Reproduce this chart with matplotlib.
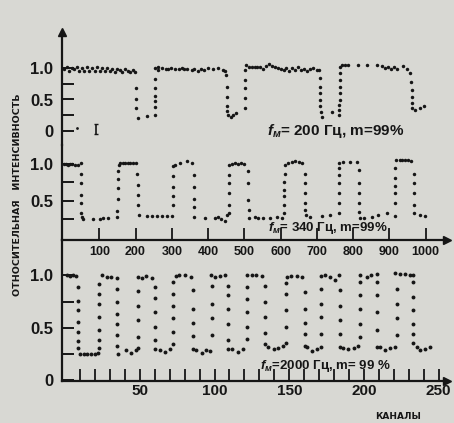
import matplotlib
matplotlib.use("Agg")
import matplotlib.pyplot as plt
from matplotlib import font_manager as fm

# ---------------- data ----------------
# Top panel: f_m = 200 Hz, m = 99 %  (channels 0..1000)
top_ch = [3, 10, 17, 24, 31, 38, 45, 52, 59, 66, 73, 80, 87, 94, 101, 108, 115, 122, 129, 136,
          143, 150, 157, 164, 171, 178, 185, 192, 198,
          200, 200, 202, 206, 232,
          253, 254, 254, 254, 254, 254, 255,
          263, 263, 272, 283, 290, 297, 309, 320, 327, 334, 343, 355, 362, 371, 380, 388, 401, 414, 428, 440, 448,
          450, 451, 452, 452, 453, 455, 462, 470, 478,
          502, 503, 503, 503, 503, 504,
          512, 520, 528, 536, 544, 552, 560, 568, 576, 584, 592, 600, 608, 616, 624, 632, 640, 648, 656, 664,
          672, 680, 690, 700,
          707, 708, 708, 709, 709, 709, 710, 713, 741,
          762, 762, 762, 763, 763, 763, 763, 764, 764,
          770, 778, 786, 814, 837, 865, 880, 888, 896, 904, 912, 920, 938, 948,
          958, 960, 961, 962, 962, 963, 970, 984, 996]
top_val = [0.98, 1.02, 0.96, 1.00, 0.99, 1.01, 0.96, 1.00, 0.95, 1.01, 0.96, 1.00, 0.95, 1.01, 0.96, 1.00, 0.95, 1.00, 0.96, 0.99,
           0.94, 0.98, 0.97, 0.93, 0.98, 0.96, 0.94, 0.97, 0.93,
           0.68, 0.51, 0.36, 0.21, 0.24,
           0.26, 0.38, 0.47, 0.55, 0.69, 0.82, 1.00,
           1.02, 0.97, 1.00, 0.99, 0.99, 1.00, 0.99, 0.98, 1.00, 0.98, 0.99, 0.97, 0.99, 0.96, 0.99, 0.97, 1.00, 0.98, 1.00, 0.97, 0.95,
           0.89, 0.70, 0.54, 0.39, 0.31, 0.25, 0.23, 0.25, 0.28,
           0.36, 0.52, 0.68, 0.81, 0.97, 1.05,
           1.02, 1.02, 1.01, 1.02, 1.01, 0.99, 1.03, 1.07, 1.03, 1.02, 1.00, 0.98, 0.97, 1.00, 0.96, 1.00, 0.97, 1.01, 0.97, 0.99,
           0.95, 0.98, 1.00, 0.97,
           0.97, 0.84, 0.70, 0.60, 0.49, 0.39, 0.30, 0.23, 0.30,
           0.25, 0.33, 0.41, 0.49, 0.60, 0.70, 0.81, 0.92, 1.02,
           1.04, 1.05, 1.04, 1.05, 1.05, 1.05, 1.03, 1.00, 1.02, 0.99, 1.01, 0.98, 1.03, 0.98,
           0.92, 0.78, 0.65, 0.54, 0.44, 0.36, 0.34, 0.36, 0.39]
# small marks near zero level (start of top record) and error bar
top_zero_ch = [38]
top_zero_val = [0.04]
err_ch = [92]
err_val = [0.03]
err_size = [0.08]

# Middle panel: f_m = 340 Hz, m = 99 %  (channels 0..1000)
mid_ch = [2, 8, 14, 20, 26, 32, 40, 49,
          50, 51, 51, 51, 51, 52, 54,
          82, 102, 111, 125,
          148, 150, 153, 153, 153, 153, 154,
          158, 165, 172, 179, 186, 193, 200,
          205, 206, 207, 208, 210,
          231, 245, 258, 272, 286,
          300, 302, 302, 302, 303, 303,
          309, 323, 341, 355,
          361, 361, 361, 362, 362,
          392, 419, 428, 437, 447, 452,
          458, 458, 458, 458, 459, 459,
          465, 474, 483, 492, 500,
          510, 511, 511, 512, 513,
          529, 538, 552, 571, 589, 603,
          609, 609, 610, 610, 610, 611, 611,
          620, 630, 640, 650, 660,
          667, 667, 667, 668, 668, 669,
          681, 713, 736,
          760, 761, 761, 761, 761, 762, 762,
          772, 790, 810,
          816, 816, 817, 817, 817, 818,
          829, 851, 869, 892,
          915, 915, 915, 916, 916, 916, 917,
          928, 936, 944, 952, 960,
          968, 968, 968, 969, 969,
          984, 998]
mid_val = [1.00, 1.00, 0.99, 1.00, 1.00, 0.99, 0.99, 1.02,
           0.86, 0.74, 0.58, 0.47, 0.34, 0.28, 0.25,
           0.25, 0.25, 0.26, 0.27,
           0.28, 0.36, 0.53, 0.67, 0.79, 0.91, 0.99,
           1.01, 1.02, 1.02, 1.01, 1.02, 1.02, 1.01,
           0.87, 0.71, 0.58, 0.44, 0.31,
           0.29, 0.29, 0.29, 0.29, 0.29,
           0.29, 0.44, 0.56, 0.69, 0.83, 0.97,
           0.99, 1.02, 1.04, 1.01,
           0.85, 0.69, 0.53, 0.41, 0.28,
           0.27, 0.26, 0.28, 0.25, 0.23, 0.30,
           0.33, 0.44, 0.60, 0.74, 0.85, 0.99,
           1.00, 1.01, 1.00, 1.01, 1.00,
           0.90, 0.74, 0.51, 0.37, 0.26,
           0.28, 0.27, 0.27, 0.27, 0.28, 0.27,
           0.33, 0.44, 0.56, 0.65, 0.75, 0.86, 0.99,
           1.01, 1.03, 1.04, 1.03, 1.01,
           0.87, 0.74, 0.60, 0.47, 0.37, 0.31,
           0.28, 0.29, 0.31,
           0.34, 0.47, 0.60, 0.74, 0.85, 0.94, 1.02,
           1.03, 1.03, 1.03,
           0.92, 0.74, 0.60, 0.47, 0.35, 0.26,
           0.26, 0.28, 0.31, 0.34,
           0.29, 0.47, 0.60, 0.70, 0.81, 0.94, 1.05,
           1.05, 1.05, 1.05, 1.05, 1.04,
           0.87, 0.74, 0.60, 0.44, 0.33,
           0.31, 0.29]

# Bottom panel: f_m = 2000 Hz, m = 99 %  (channels 0..250)
bot_ch = [1.5, 3.5, 5.5, 7.5,
          9, 9, 9, 9, 9, 9, 9,
          10, 12.5, 15, 17.5, 20, 22,
          23, 23, 23, 23, 23, 23, 23,
          24.5, 28, 31, 34.5,
          35, 35, 35, 35, 35, 35, 35.5,
          40.5, 44, 47.5,
          49, 49, 49, 49, 49,
          49, 51.5, 54.5, 58,
          60.5, 60.5, 60.5, 60.5, 60.5, 60.5,
          63.5, 67, 70,
          72, 72, 72, 72, 72, 72,
          74, 76, 80, 84,
          85.5, 85.5, 85.5, 85.5, 85.5,
          87.5, 91.5, 94.5, 97,
          98, 98, 98, 98,
          97.5, 100.5, 103.5, 107,
          109, 109, 109, 109, 109, 109,
          111.5, 116, 119,
          121.5, 121.5, 121.5, 121.5, 121.5,
          122, 125, 128, 131.5,
          134, 134, 134, 134, 134,
          136, 139.5, 142.5, 146,
          148, 148, 148, 148, 148,
          148.5, 151.5, 155, 158.5,
          160.5, 160.5, 160.5, 160.5, 160.5,
          162, 165, 168.5, 171,
          171, 171, 171, 171,
          171, 174, 177.5, 180.5, 183,
          184, 184, 184, 184, 184,
          186, 189.5, 193, 196,
          197.5, 197.5, 197.5, 197.5, 197.5,
          197.5, 202, 205, 208.5,
          209, 209, 209, 209, 209,
          210.5, 214, 217.5, 220.5,
          222, 222, 222, 222,
          220.5, 224, 227.5, 231, 233,
          233, 233, 233, 233, 233, 233,
          235.5, 237.5, 241, 244]
bot_val = [1.00, 0.99, 1.00, 0.99,
           0.89, 0.76, 0.67, 0.56, 0.46, 0.37, 0.31,
           0.25, 0.25, 0.25, 0.25, 0.25, 0.26,
           0.31, 0.38, 0.48, 0.60, 0.73, 0.82, 0.92,
           1.00, 0.98, 0.98, 0.97,
           0.87, 0.75, 0.63, 0.54, 0.43, 0.33, 0.25,
           0.29, 0.26, 0.29,
           0.31, 0.41, 0.57, 0.71, 0.85,
           0.98, 0.97, 0.99, 0.97,
           0.89, 0.78, 0.65, 0.51, 0.38, 0.30,
           0.29, 0.27, 0.30,
           0.35, 0.46, 0.59, 0.71, 0.82, 0.94,
           0.99, 1.00, 1.00, 0.98,
           0.86, 0.68, 0.55, 0.42, 0.30,
           0.29, 0.26, 0.29, 0.28,
           0.43, 0.59, 0.73, 0.90,
           1.00, 0.98, 0.99, 1.00,
           0.90, 0.81, 0.68, 0.54, 0.38, 0.30,
           0.30, 0.27, 0.30,
           0.39, 0.51, 0.65, 0.77, 0.89,
           1.00, 1.00, 1.00, 0.99,
           0.90, 0.75, 0.60, 0.45, 0.35,
           0.32, 0.30, 0.31, 0.33,
           0.36, 0.51, 0.67, 0.82, 0.93,
           0.98, 0.99, 0.99, 0.98,
           0.84, 0.68, 0.55, 0.44, 0.33,
           0.32, 0.28, 0.30, 0.32,
           0.44, 0.60, 0.73, 0.87,
           0.99, 1.00, 0.98, 0.96, 1.00,
           0.86, 0.71, 0.57, 0.44, 0.32,
           0.31, 0.30, 0.31, 0.33,
           0.41, 0.54, 0.68, 0.81, 0.94,
           1.00, 0.98, 1.00, 1.01,
           0.94, 0.81, 0.65, 0.48, 0.32,
           0.32, 0.29, 0.31, 0.32,
           0.43, 0.59, 0.73, 0.87,
           1.02, 1.01, 1.01, 1.00, 1.00,
           0.94, 0.79, 0.67, 0.54, 0.44, 0.36,
           0.32, 0.29, 0.30, 0.32]

assert len(top_ch) == len(top_val)
assert len(mid_ch) == len(mid_val)
assert len(bot_ch) == len(bot_val)

y_ticks = [0, 0.25, 0.5, 0.75, 1.0]
y_ticklabels = ["0", "", "0.5", "", "1.0"]
mid_xticks = [100, 200, 300, 400, 500, 600, 700, 800, 900, 1000]
bot_xticks = list(range(10, 251, 10))
bot_xlabeled = [50, 100, 150, 200, 250]

label_top = r"$f_{м}$= 200 Гц, m=99%"
label_mid = r"$f_{м}$= 340 Гц, m=99%"
label_bot = r"$f_{м}$=2000 Гц, m= 99 %"
ylabel_text = "ОТНОСИТЕЛЬНАЯ   ИНТЕНСИВНОСТЬ"
xlabel_text = "КАНАЛЫ"

# ---------------- style ----------------
BG = "#d8d8d3"
INK = "#161616"
names = {f.name for f in fm.fontManager.ttflist}
MAIN = "Liberation Sans Narrow" if "Liberation Sans Narrow" in names else "Liberation Sans"
plt.rcParams["font.family"] = [MAIN, "DejaVu Sans"]
plt.rcParams["font.weight"] = "bold"
plt.rcParams["mathtext.fontset"] = "custom"
plt.rcParams["mathtext.rm"] = f"{MAIN}:bold"
plt.rcParams["mathtext.it"] = f"{MAIN}:italic:bold"
plt.rcParams["mathtext.bf"] = f"{MAIN}:bold"

W, H = 454, 423
fig = plt.figure(figsize=(W / 100, H / 100), dpi=100, facecolor=BG)


def add_axes_px(left, top, right, bottom):
    ax = fig.add_axes([left / W, 1 - bottom / H, (right - left) / W, (bottom - top) / H])
    ax.set_facecolor("none")
    for s in ("top", "right"):
        ax.spines[s].set_visible(False)
    ax.spines["left"].set_linewidth(1.6)
    ax.spines["bottom"].set_linewidth(1.6)
    ax.spines["left"].set_color(INK)
    ax.spines["bottom"].set_color(INK)
    return ax


AX_L, AX_R = 61.5, 447
# calibration (pixel = a + b * value)
top_x0, top_xs = 63, 0.3627
bot_x0, bot_xs = 65, 1.495

YLAB = 12

# ---- top panel ----
t_zero, t_scale = 131, 63.0
ax_t = add_axes_px(AX_L, 32, AX_R, 145)
ax_t.set_xlim((AX_L - top_x0) / top_xs, (AX_R - top_x0) / top_xs)
ax_t.set_ylim((t_zero - 145) / t_scale, (t_zero - 32) / t_scale)
ax_t.spines["bottom"].set_visible(False)
ax_t.plot(top_ch, top_val, "o", ms=2.5, color=INK, mew=0)
ax_t.plot(top_zero_ch, top_zero_val, "o", ms=2.0, color=INK, mew=0)
ax_t.errorbar(err_ch, err_val, yerr=err_size, fmt="none", ecolor=INK, elinewidth=1.2, capsize=1.6, capthick=1.0)
ax_t.set_xticks([])
ax_t.set_yticks(y_ticks)
ax_t.set_yticklabels(y_ticklabels)
ax_t.tick_params(axis="y", direction="in", length=8.5, width=1.4, pad=6, labelsize=YLAB, colors=INK)
ax_t.plot([0], [1], marker="^", ms=6, color=INK, transform=ax_t.transAxes, clip_on=False)

# ---- middle panel ----
m_zero, m_scale = 237.5, 73.5
ax_m = add_axes_px(AX_L, 145, AX_R, 240)
ax_m.set_xlim((AX_L - top_x0) / top_xs, (AX_R - top_x0) / top_xs)
ax_m.set_ylim((m_zero - 240) / m_scale, (m_zero - 145) / m_scale)
ax_m.plot(mid_ch, mid_val, "o", ms=2.5, color=INK, mew=0)
ax_m.set_yticks(y_ticks[1:])
ax_m.set_yticklabels(y_ticklabels[1:])
ax_m.set_xticks(mid_xticks)
ax_m.set_xticklabels([str(v) for v in mid_xticks])
ax_m.tick_params(axis="y", direction="in", length=8.5, width=1.4, pad=6, labelsize=YLAB, colors=INK)
ax_m.tick_params(axis="x", direction="in", length=8.5, width=1.3, pad=4, labelsize=9, colors=INK)
ax_m.plot([1], [0], marker=">", ms=6, color=INK, transform=ax_m.transAxes, clip_on=False)

# ---- bottom panel ----
b_zero, b_scale = 380.3, 105.0
ax_b = add_axes_px(AX_L, 240, AX_R, 380.5)
ax_b.set_xlim((AX_L - bot_x0) / bot_xs, (AX_R - bot_x0) / bot_xs)
ax_b.set_ylim((b_zero - 380.5) / b_scale, (b_zero - 240) / b_scale)
ax_b.plot(bot_ch, bot_val, "o", ms=2.8, color=INK, mew=0)
ax_b.set_yticks(y_ticks)
ax_b.set_yticklabels(y_ticklabels)
ax_b.set_xticks(bot_xticks)
ax_b.set_xticklabels([str(v) if v in bot_xlabeled else "" for v in bot_xticks])
ax_b.tick_params(axis="y", direction="in", length=8.5, width=1.4, pad=6, labelsize=YLAB, colors=INK)
ax_b.tick_params(axis="x", direction="in", length=8.5, width=1.3, pad=2.5, labelsize=11, colors=INK)
ax_b.plot([1], [0], marker=">", ms=6, color=INK, transform=ax_b.transAxes, clip_on=False)

# ---- texts ----
def ftext(px, py, s, **kw):
    fig.text(px / W, 1 - py / H, s, color=INK, ha="center", va="center", **kw)


ftext(336, 131, label_top, fontsize=11)
ftext(328, 228, label_mid, fontsize=9.5)
ftext(325, 366, label_bot, fontsize=9.5)
ftext(398, 416, xlabel_text, fontsize=6.5, family="DejaVu Sans", weight="bold")
ftext(18, 195, ylabel_text, fontsize=6.8, family="DejaVu Sans", weight="bold", rotation=90)

fig.savefig("out.png", dpi=100, facecolor=BG)
